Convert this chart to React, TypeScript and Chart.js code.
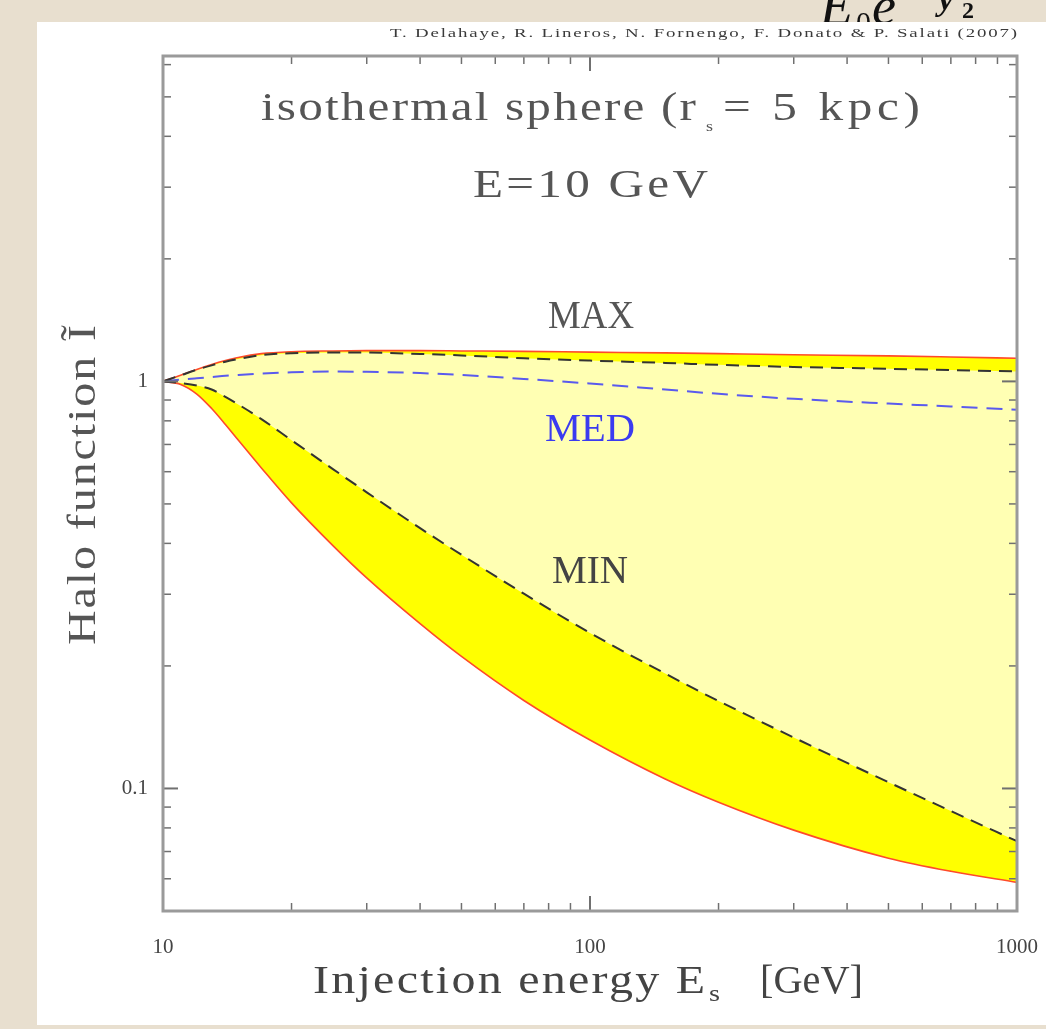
import React, { useEffect, useRef } from "react";
import { Chart, registerables } from "chart.js";

Chart.register(...registerables);

// ---- data ----
const energies = [10, 11, 12, 13, 14, 15, 17, 20, 25, 30, 40, 50, 70, 100, 150, 200, 300, 500, 700, 1000];
const maxUpper = [1.0, 1.035, 1.07, 1.1, 1.125, 1.145, 1.17, 1.183, 1.188, 1.19, 1.19, 1.188, 1.185, 1.18, 1.175, 1.17, 1.163, 1.155, 1.148, 1.14];
const maxDashed = [1.0, 1.035, 1.068, 1.095, 1.118, 1.135, 1.16, 1.173, 1.178, 1.177, 1.168, 1.158, 1.14, 1.125, 1.11, 1.098, 1.085, 1.074, 1.066, 1.058];
const medDashed = [1.0, 1.01, 1.018, 1.025, 1.032, 1.037, 1.045, 1.053, 1.057, 1.056, 1.048, 1.037, 1.014, 0.988, 0.955, 0.932, 0.906, 0.882, 0.868, 0.852];
const minDashed = [1.0, 0.991, 0.977, 0.955, 0.916, 0.878, 0.808, 0.717, 0.609, 0.534, 0.436, 0.375, 0.301, 0.241, 0.1915, 0.164, 0.1334, 0.1036, 0.088, 0.0742];
const minLower = [1.0, 0.983, 0.931, 0.858, 0.784, 0.718, 0.613, 0.503, 0.395, 0.329, 0.254, 0.211, 0.1645, 0.1315, 0.1055, 0.0925, 0.079, 0.0674, 0.0626, 0.0588];

const xTickLabels = [10, 100, 1000];
const xMinorTicks = [20, 30, 40, 50, 60, 70, 80, 90, 200, 300, 400, 500, 600, 700, 800, 900];
const yTickLabels = [0.1, 1];
const yMinorTicks = [0.05, 0.06, 0.07, 0.08, 0.09, 0.2, 0.3, 0.4, 0.5, 0.6, 0.7, 0.8, 0.9, 2, 3, 4, 5, 6];

const SERIF = '"Liberation Serif", "DejaVu Serif", serif';

function drawFit(
  ctx: CanvasRenderingContext2D,
  text: string,
  x: number,
  y: number,
  size: number,
  width: number,
  color: string,
  maxStretch = 1.2,
  style = ""
) {
  ctx.save();
  ctx.font = `${style}${size}px ${SERIF}`;
  ctx.fillStyle = color;
  ctx.textBaseline = "alphabetic";
  ctx.textAlign = "left";
  const w = ctx.measureText(text).width;
  const sx = Math.min(width / w, maxStretch);
  const remaining = width - w * sx;
  ctx.translate(x, y);
  ctx.scale(sx, 1);
  if (remaining > 0 && text.length > 1) {
    (ctx as any).letterSpacing = `${remaining / (text.length - 1) / sx}px`;
  }
  ctx.fillText(text, 0, 0);
  ctx.restore();
}

const backgroundPlugin = {
  id: "paperBackground",
  beforeDraw(chart: any) {
    const ctx: CanvasRenderingContext2D = chart.ctx;
    const W = chart.width;
    const H = chart.height;
    ctx.save();
    ctx.fillStyle = "#e8dfcf";
    ctx.fillRect(0, 0, W, H);
    // partially hidden formula at top right
    ctx.fillStyle = "#111";
    ctx.textBaseline = "alphabetic";
    ctx.font = `italic 54px ${SERIF}`;
    ctx.fillText("E", 820, 24);
    ctx.font = `30px ${SERIF}`;
    ctx.fillText("0", 856, 32);
    ctx.font = `italic 54px ${SERIF}`;
    ctx.fillText("e", 872, 24);
    ctx.font = `italic bold 34px ${SERIF}`;
    ctx.fillText("\u2212y", 918, 10);
    ctx.font = `bold 24px ${SERIF}`;
    ctx.fillText("2", 962, 18);
    // white paper panel
    ctx.fillStyle = "#ffffff";
    ctx.fillRect(37, 22, W - 37, 1025 - 22);
    ctx.restore();
  },
};

const framePlugin = {
  id: "frameTicks",
  afterDatasetsDraw(chart: any) {
    const ctx: CanvasRenderingContext2D = chart.ctx;
    const a = chart.chartArea;
    const xs = chart.scales.x;
    const ys = chart.scales.y;
    ctx.save();
    ctx.strokeStyle = "#707070";
    const seg = (x1: number, y1: number, x2: number, y2: number) => {
      ctx.beginPath();
      ctx.moveTo(x1, y1);
      ctx.lineTo(x2, y2);
      ctx.stroke();
    };
    const xt = (vals: number[], len: number, lw: number) => {
      ctx.lineWidth = lw;
      vals.forEach((v) => {
        const p = xs.getPixelForValue(v);
        seg(p, a.bottom, p, a.bottom - len);
        seg(p, a.top, p, a.top + len);
      });
    };
    const yt = (vals: number[], len: number, lw: number) => {
      ctx.lineWidth = lw;
      vals.forEach((v) => {
        const p = ys.getPixelForValue(v);
        seg(a.left, p, a.left + len, p);
        seg(a.right, p, a.right - len, p);
      });
    };
    xt(xTickLabels, 15, 2);
    xt(xMinorTicks, 8, 1.5);
    yt(yTickLabels, 15, 2);
    yt(yMinorTicks, 8, 1.5);
    ctx.strokeStyle = "#9a9a9a";
    ctx.lineWidth = 3;
    ctx.strokeRect(a.left, a.top, a.right - a.left, a.bottom - a.top);
    ctx.restore();
  },
};

const textPlugin = {
  id: "annotations",
  afterDraw(chart: any) {
    const ctx: CanvasRenderingContext2D = chart.ctx;
    // attribution
    drawFit(ctx, "T. Delahaye, R. Lineros, N. Fornengo, F. Donato & P. Salati (2007)", 390, 37, 13, 627, "#3a3a3a", 1.45);
    // title lines
    drawFit(ctx, "isothermal sphere (r", 261, 120, 41, 435, "#555");
    drawFit(ctx, "s", 706, 131, 15, 8, "#555");
    drawFit(ctx, "= 5 kpc)", 723, 120, 41, 197, "#555");
    drawFit(ctx, "E=10 GeV", 473, 197, 41, 235, "#555");
    // curve labels
    drawFit(ctx, "MAX", 548, 328, 40, 86, "#555");
    drawFit(ctx, "MED", 545, 441, 40, 90, "#3b3bf0");
    drawFit(ctx, "MIN", 552, 583, 40, 76, "#444");
    // y axis title
    ctx.save();
    ctx.translate(95, 645);
    ctx.rotate(-Math.PI / 2);
    drawFit(ctx, "Halo function \u0128", 0, 0, 40, 320, "#555");
    ctx.restore();
    // x axis title
    drawFit(ctx, "Injection energy E", 313, 993, 40, 392, "#444");
    drawFit(ctx, "s", 709, 1001, 24, 11, "#444");
    drawFit(ctx, "[GeV]", 760, 993, 40, 103, "#444");
  },
};

const pts = (vals: number[]) => energies.map((e, i) => ({ x: e, y: vals[i] }));

export default function App() {
  const ref = useRef<HTMLCanvasElement | null>(null);
  useEffect(() => {
    if (!ref.current) return;
    const lineBase = { pointRadius: 0, cubicInterpolationMode: "monotone" as const };
    const chart = new Chart(ref.current, {
      type: "line",
      data: {
        datasets: [
          { ...lineBase, label: "MAX", data: pts(maxDashed), borderColor: "#333", borderWidth: 2, borderDash: [13, 8], fill: 1, backgroundColor: "#ffffb3" },
          { ...lineBase, label: "MIN", data: pts(minDashed), borderColor: "#333", borderWidth: 2, borderDash: [13, 8], fill: false },
          { ...lineBase, label: "MED", data: pts(medDashed), borderColor: "#5a5aee", borderWidth: 2, borderDash: [16, 9], fill: false },
          { ...lineBase, label: "upper", data: pts(maxUpper), borderColor: "#ff4a2a", borderWidth: 1.6, fill: 4, backgroundColor: "#ffff00" },
          { ...lineBase, label: "lower", data: pts(minLower), borderColor: "#ff4a2a", borderWidth: 1.6, fill: false },
        ],
      },
      options: {
        animation: false,
        responsive: false,
        maintainAspectRatio: false,
        layout: { padding: { top: 56, right: 29, left: 0, bottom: 0 } },
        plugins: {
          legend: { display: false },
          tooltip: { enabled: false },
          filler: { drawTime: "beforeDatasetsDraw" },
        } as any,
        scales: {
          x: {
            type: "logarithmic",
            min: 10,
            max: 1000,
            position: "bottom",
            grid: { display: false, drawTicks: false },
            border: { display: false },
            ticks: {
              autoSkip: false,
              maxRotation: 0,
              padding: 24,
              color: "#444",
              font: { family: SERIF, size: 21 },
              callback: (v: any) => String(v),
            },
            afterBuildTicks: (s: any) => {
              s.ticks = xTickLabels.map((v) => ({ value: v }));
            },
            afterFit: (s: any) => {
              s.height = 118;
              s.paddingLeft = 0;
              s.paddingRight = 0;
            },
          },
          y: {
            type: "logarithmic",
            min: 0.05,
            max: 6.3,
            grid: { display: false, drawTicks: false },
            border: { display: false },
            ticks: {
              autoSkip: false,
              padding: 15,
              color: "#444",
              font: { family: SERIF, size: 21 },
              callback: (v: any) => String(v),
            },
            afterBuildTicks: (s: any) => {
              s.ticks = yTickLabels.map((v) => ({ value: v }));
            },
            afterFit: (s: any) => {
              s.width = 163;
              s.paddingTop = 0;
              s.paddingBottom = 0;
            },
          },
        } as any,
      },
      plugins: [backgroundPlugin, framePlugin, textPlugin],
    });
    return () => chart.destroy();
  }, []);
  return (
    <div style={{ position: "absolute", left: 0, top: 0, width: 1046, height: 1029 }}>
      <canvas ref={ref} width={1046} height={1029} style={{ display: "block", width: 1046, height: 1029 }} />
    </div>
  );
}
